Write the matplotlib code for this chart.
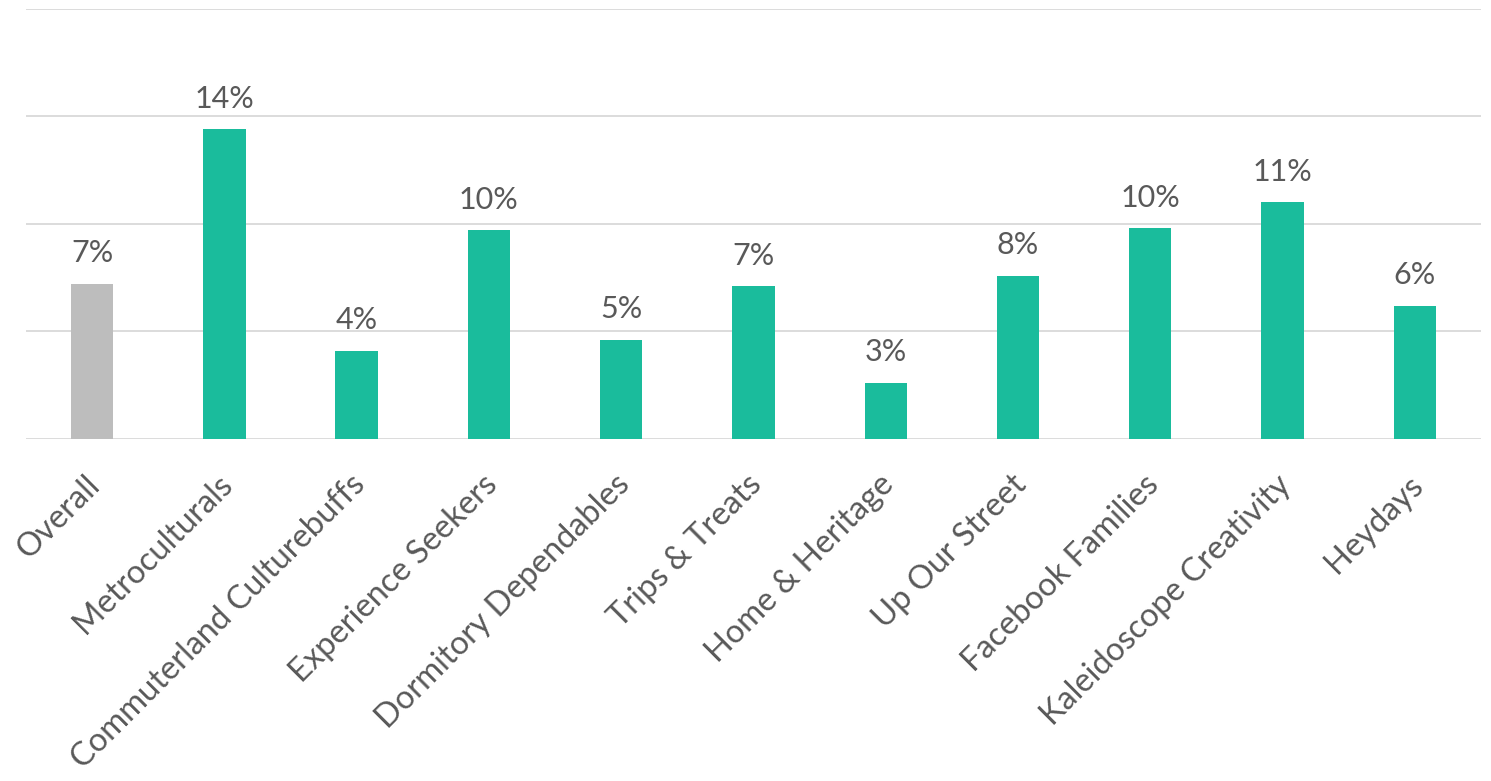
import matplotlib.pyplot as plt
import matplotlib.transforms as mtransforms
import numpy as np

segments = ["Overall", "Metroculturals", "Commuterland Culturebuffs", "Experience Seekers",
            "Dormitory Dependables", "Trips & Treats", "Home & Heritage", "Up Our Street",
            "Facebook Families", "Kaleidoscope Creativity", "Heydays"]
share = [0.072, 0.144, 0.041, 0.097, 0.046, 0.071, 0.026, 0.076, 0.098, 0.110, 0.062]

plt.rcParams['font.family'] = ['Lato', 'DejaVu Sans']

fig = plt.figure(figsize=(14.91, 7.81), dpi=100)
ax = fig.add_axes([0.0174, 0.438, 0.9758, 0.5505])

x = np.arange(len(segments))
colors = ['#BDBDBD'] + ['#1ABC9C'] * (len(segments) - 1)
bars = ax.bar(x, share, width=0.32, color=colors, zorder=3)

for xi, v in zip(x, share):
    ax.annotate(f"{v:.0%}", (xi, v), xytext=(0, 12), textcoords='offset points',
                ha='center', va='bottom', fontsize=22, color='#595959')

ax.set_xlim(-0.5, len(segments) - 0.5)
ax.set_ylim(0, 0.2)
ax.set_yticks(np.arange(0, 0.21, 0.05))
ax.yaxis.grid(True, color='#D9D9D9', linewidth=1.3, zorder=0)
ax.tick_params(axis='y', left=False, labelleft=False)
ax.tick_params(axis='x', length=0, pad=22)
ax.set_xticks(x)
ax.set_xticklabels(segments, rotation=45, ha='right', rotation_mode='anchor',
                   fontsize=23.5, color='#595959')
# nudge labels a little left so they end under the bar centre
shift = mtransforms.ScaledTranslation(-7 / 100, 0, fig.dpi_scale_trans)
for lbl in ax.get_xticklabels():
    lbl.set_transform(lbl.get_transform() + shift)
for s in ax.spines.values():
    s.set_visible(False)

fig.savefig("out.png", dpi=100)
